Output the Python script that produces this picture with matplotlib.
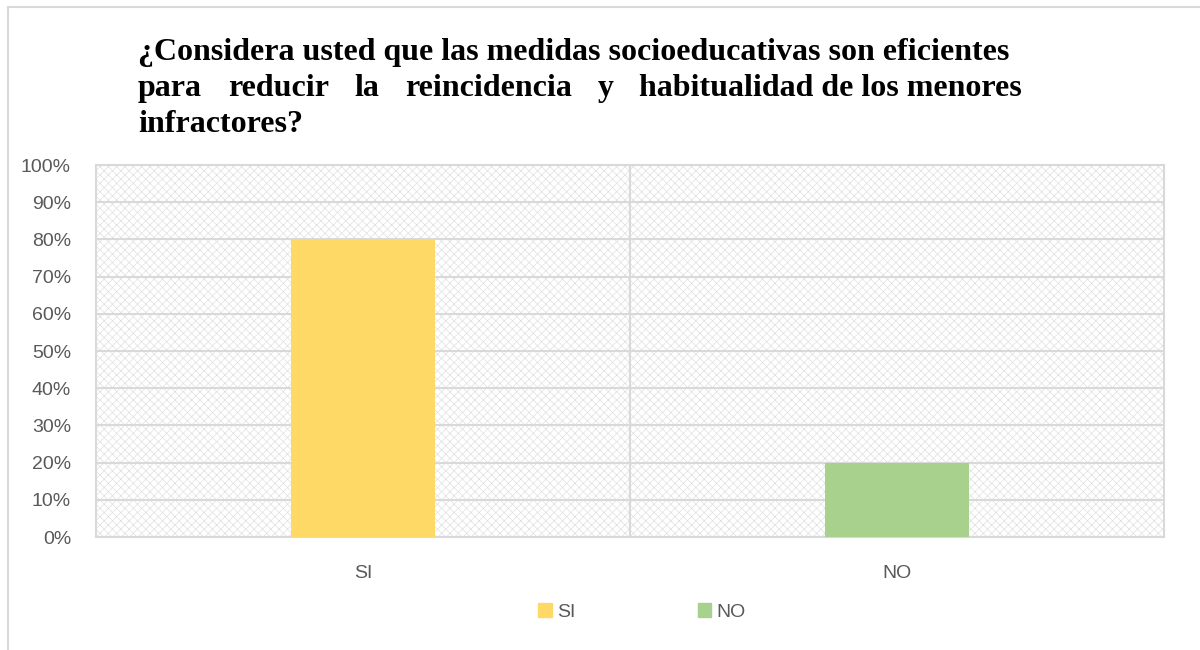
import matplotlib.pyplot as plt
from matplotlib.patches import Rectangle, Patch
from matplotlib.ticker import PercentFormatter
from matplotlib.lines import Line2D

# Datos de la encuesta
categorias = ['SI', 'NO']
porcentajes = [0.80, 0.20]
colores = ['#FFD966', '#A9D18E']

titulo_1 = '¿Considera usted que las medidas socioeducativas son eficientes'
titulo_2 = ['para', 'reducir', 'la', 'reincidencia', 'y', 'habitualidad de los menores']
titulo_3 = 'infractores?'

plt.rcParams['font.family'] = ['Liberation Sans', 'DejaVu Sans']
plt.rcParams['hatch.linewidth'] = 0.5

fig = plt.figure(figsize=(12, 6.5), dpi=100)
W, H = 1200, 650
ax = fig.add_axes([96 / W, 1 - 537 / H, 1068 / W, 372 / H])

# fondo con textura
ax.add_patch(Rectangle((0, 0), 1, 1, transform=ax.transAxes, facecolor='white',
                       edgecolor='#e0e0e0', hatch='xxxx', lw=0, zorder=0))

x = range(len(categorias))
ax.bar(x, porcentajes, width=0.27, color=colores, zorder=3)

ax.set_xlim(-0.5, 1.5)
ax.set_ylim(0, 1)
ax.set_yticks([i / 10 for i in range(11)])
ax.yaxis.set_major_formatter(PercentFormatter(1.0, decimals=0))
ax.set_xticks(list(x))
ax.set_xticklabels(categorias)
ax.tick_params(length=0, labelsize=14, labelcolor='#595959')
ax.tick_params(axis='x', pad=20)
ax.tick_params(axis='y', pad=18)
ax.grid(axis='y', color='#d9d9d9', lw=1.5, zorder=1)
ax.axvline(0.5, color='#d9d9d9', lw=1.5, zorder=1)
for s in ax.spines.values():
    s.set_color('#d9d9d9')
    s.set_linewidth(1.5)

# leyenda
handles = [Patch(color=c, label=l) for c, l in zip(colores, categorias)]
fig.legend(handles=handles, loc='center', bbox_to_anchor=(642 / W, 1 - 612 / H),
           ncol=2, frameon=False, fontsize=14, labelcolor='#595959',
           handlelength=0.7, handleheight=0.7, handletextpad=0.25, columnspacing=6.3)

# borde del gráfico
fig.add_artist(Line2D([8 / W, 8 / W], [0, 1 - 7 / H], color='#d9d9d9', lw=1.5))
fig.add_artist(Line2D([8 / W, 1], [1 - 7 / H, 1 - 7 / H], color='#d9d9d9', lw=1.5))

# título justificado
tkw = dict(family='Liberation Serif', fontweight='bold', fontsize=23, color='black')
x0, x1 = 138, 1022
fig.text(x0 / W, 1 - 60 / H, titulo_1, ha='left', va='baseline', **tkw)
fig.text(x0 / W, 1 - 132 / H, titulo_3, ha='left', va='baseline', **tkw)
renderer = fig.canvas.get_renderer()
palabras = [fig.text(0, 1 - 96 / H, p, ha='left', va='baseline', **tkw) for p in titulo_2]
anchos = [t.get_window_extent(renderer).width for t in palabras]
hueco = (x1 - x0 - sum(anchos)) / (len(palabras) - 1)
pos = x0
for t, w in zip(palabras, anchos):
    t.set_x(pos / W)
    pos += w + hueco

fig.savefig('out.png', dpi=100)
